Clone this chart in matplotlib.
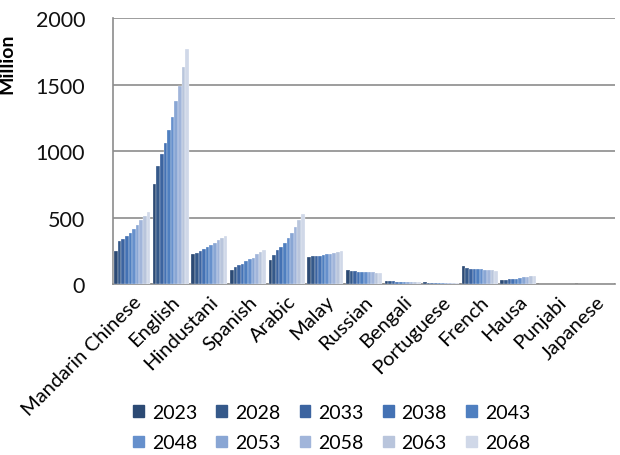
import numpy as np
import matplotlib.pyplot as plt
from matplotlib.patches import Patch

# Speakers per language (million)
languages = ["Mandarin Chinese", "English", "Hindustani", "Spanish", "Arabic",
             "Malay", "Russian", "Bengali", "Portuguese", "French", "Hausa",
             "Punjabi", "Japanese"]
years = ["2023", "2028", "2033", "2038", "2043", "2048", "2053", "2058", "2063", "2068"]

mandarin = [252, 321, 341, 361, 386, 417, 447, 480, 510, 540]
english = [750, 891, 977, 1061, 1162, 1258, 1376, 1490, 1629, 1768]
hindustani = [222, 235, 247, 263, 278, 290, 308, 328, 348, 364]
spanish = [109, 127, 142, 152, 170, 185, 198, 223, 244, 259]
arabic = [178, 221, 254, 279, 310, 343, 386, 426, 482, 528]
malay = [203, 208, 211, 213, 221, 223, 228, 234, 241, 252]
russian = [102, 99, 97, 94, 94, 91, 91, 89, 86, 86]
bengali = [20, 19, 19, 18, 18, 17, 17, 16, 15, 14]
portuguese = [12, 11, 11, 10, 10, 10, 9, 9, 9, 8]
french = [137, 118, 115, 113, 113, 110, 108, 108, 105, 100]
hausa = [30, 32, 35, 37, 40, 45, 50, 55, 60, 62]
punjabi = [0, 0, 0, 0, 0, 0, 0, 0, 0, 0]
japanese = [0, 0, 0, 0, 0, 0, 0, 0, 0, 0]

table = np.array([mandarin, english, hindustani, spanish, arabic, malay, russian,
                  bengali, portuguese, french, hausa, punjabi, japanese])

colors = ["#2c4a74", "#35598a", "#3c64a0", "#4472b4", "#4f7fc0",
          "#6690cc", "#89a6d4", "#a1b5da", "#b9c5dc", "#d0d8e8"]

plt.rcParams["font.family"] = ["Lato", "DejaVu Sans"]

fig = plt.figure(figsize=(6.2, 4.56), dpi=100)
ax = fig.add_axes([0.182, 0.375, 0.81, 0.583])

x = np.arange(len(languages))
n = len(years)
w = 0.93 / n
for i in range(n):
    ax.bar(x - 0.465 + w * (i + 0.5), table[:, i], width=w, color=colors[i],
           edgecolor="white", linewidth=0.2, zorder=3)

ax.set_xlim(-0.5, len(languages) - 0.5)
ax.set_ylim(0, 2000)
ax.set_yticks([0, 500, 1000, 1500, 2000])
ax.tick_params(axis="y", labelsize=15.5, length=0, pad=20, labelcolor="#111111")
ax.set_xticks(x)
ax.set_xticklabels(languages, rotation=45, ha="right", rotation_mode="anchor",
                   fontsize=14.5)
ax.tick_params(axis="x", length=0, pad=6)
ax.grid(axis="y", color="#8c8c8c", linewidth=1.2, zorder=0)
for s in ["top", "right"]:
    ax.spines[s].set_visible(False)
for s in ["left", "bottom"]:
    ax.spines[s].set_color("#8c8c8c")
    ax.spines[s].set_linewidth(1.2)

fig.text(7 / 620, 1 - 64 / 456, "Million", rotation=90, fontsize=14,
         fontweight="bold", ha="center", va="center")

# legend is filled column by column, so interleave to get years row by row
order = [0, 5, 1, 6, 2, 7, 3, 8, 4, 9]
handles = [Patch(color=colors[k]) for k in order]
labels = [years[k] for k in order]
fig.legend(handles, labels, ncol=5, loc="center", bbox_to_anchor=(0.535, 0.06),
           frameon=False, fontsize=14, handlelength=0.55, handleheight=0.55,
           handletextpad=0.4, columnspacing=1.0, labelspacing=0.7)

fig.savefig("out.png", dpi=100)
